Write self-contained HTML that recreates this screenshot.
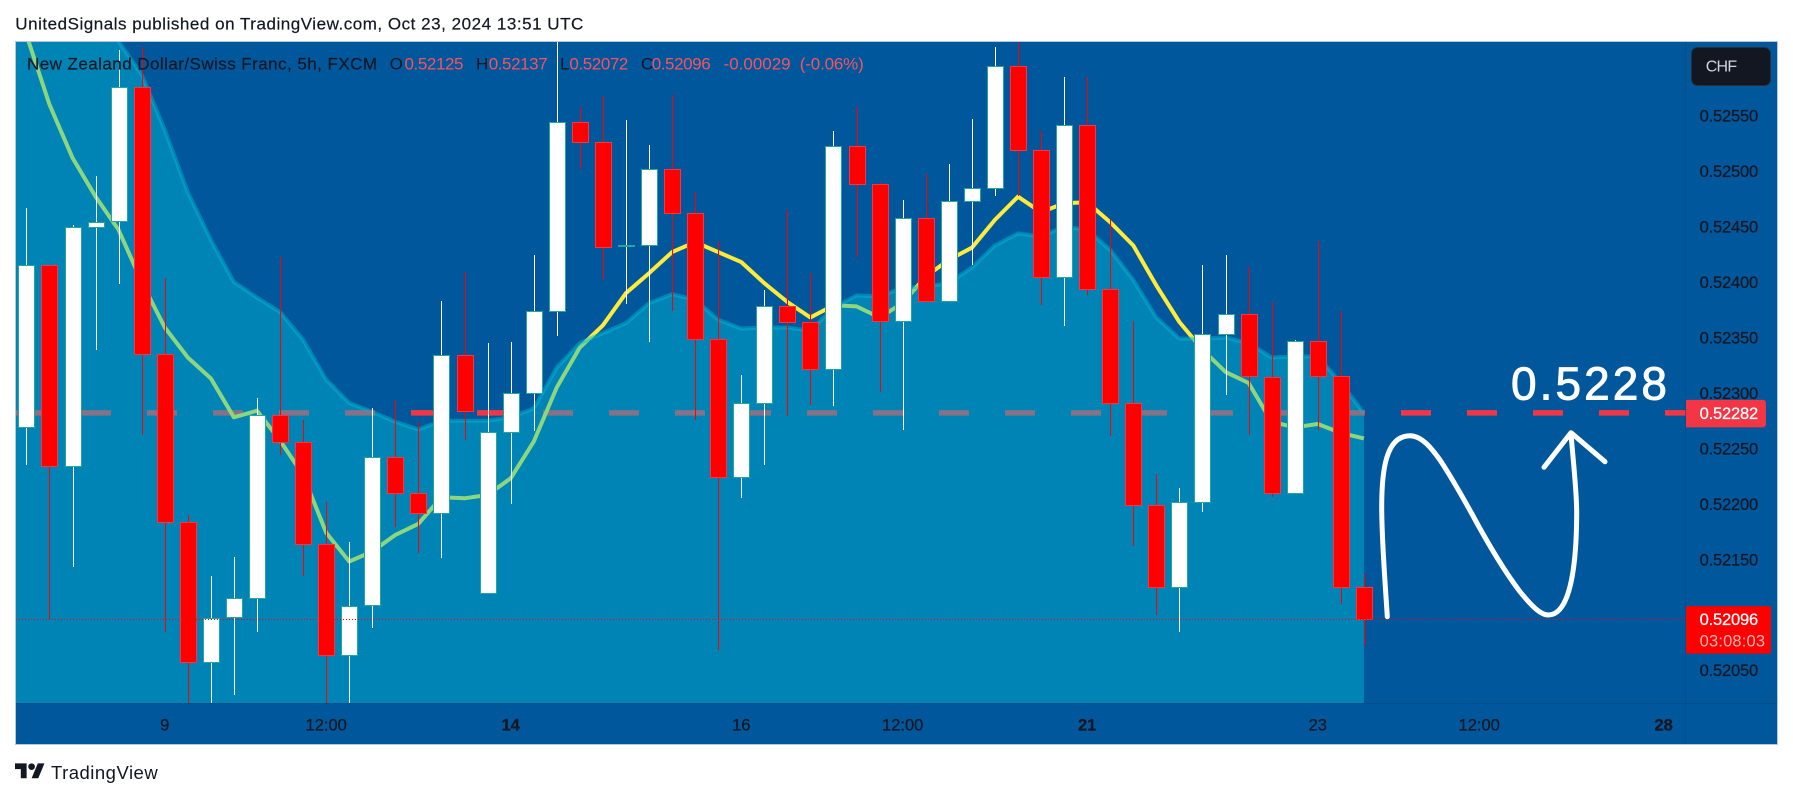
<!DOCTYPE html>
<html lang="en">
<head>
<meta charset="utf-8">
<title>NZD/CHF 5h chart</title>
<style>
  html, body { margin: 0; padding: 0; background: #ffffff; }
  body { width: 1793px; height: 798px; overflow: hidden; }
  svg { display: block; }
  text { font-family: "Liberation Sans", sans-serif; }
</style>
</head>
<body>
<svg id="chart" xmlns="http://www.w3.org/2000/svg" width="1793" height="798" viewBox="0 0 1793 798">
  <defs>
    <clipPath id="plot-clip"><rect x="16" y="42" width="1669.5" height="661"></rect></clipPath>
  </defs>
  <rect x="0" y="0" width="1793" height="798" fill="#ffffff"></rect>
  <text x="15.3" y="29.5" font-size="17" fill="#131722" stroke="#131722" stroke-width="0.2" textLength="568" lengthAdjust="spacing">UnitedSignals published on TradingView.com, Oct 23, 2024 13:51 UTC</text>
  <rect x="15.5" y="41.5" width="1762" height="703" fill="#01579b" stroke="#b7c6dc" stroke-width="1"></rect>

  <g id="plot-layer" clip-path="url(#plot-clip)">
    <g id="hline-layer"></g>
    <g id="sma-layer"></g>
    <g id="area-layer"></g>
    <g id="candle-layer"></g>
    <g id="last-layer"></g>
  </g>

  <line x1="16" y1="703.5" x2="1777" y2="703.5" stroke="#131722" stroke-opacity="0.12"></line>
  <line x1="1685.5" y1="42" x2="1685.5" y2="744" stroke="#131722" stroke-opacity="0.12"></line>

  <g id="price-axis"></g>
  <g id="time-axis"></g>

  <g font-size="17">
    <text x="27" y="69.5" fill="#131722" stroke="#131722" stroke-width="0.2" textLength="350" lengthAdjust="spacing">New Zealand Dollar/Swiss Franc, 5h, FXCM</text>
    <text x="389.6" y="69.5" fill="#131722">O</text>
    <text x="404.5" y="69.5" fill="#f7525f" textLength="59" lengthAdjust="spacing">0.52125</text>
    <text x="476" y="69.5" fill="#131722">H</text>
    <text x="488.7" y="69.5" fill="#f7525f" textLength="59" lengthAdjust="spacing">0.52137</text>
    <text x="560" y="69.5" fill="#131722">L</text>
    <text x="569.4" y="69.5" fill="#f7525f" textLength="59" lengthAdjust="spacing">0.52072</text>
    <text x="641" y="69.5" fill="#131722">C</text>
    <text x="651.7" y="69.5" fill="#f7525f" textLength="59" lengthAdjust="spacing">0.52096</text>
    <text x="723.6" y="69.5" fill="#f7525f" textLength="67" lengthAdjust="spacing">-0.00029</text>
    <text x="799.8" y="69.5" fill="#f7525f" textLength="64" lengthAdjust="spacing">(-0.06%)</text>
  </g>

  <g>
    <rect x="1691.5" y="47.5" width="79" height="38" rx="6" fill="#131722" stroke="#2a2e39"></rect>
    <text x="1705.7" y="71.5" font-size="16" fill="#d1d4dc" textLength="31.5" lengthAdjust="spacing">CHF</text>
  </g>

  <g>
    <text x="1511" y="399.5" font-size="46" fill="#ffffff" stroke="#ffffff" stroke-width="0.9" textLength="156" lengthAdjust="spacing">0.5228</text>
    <path d="M1387.3 616.7 C1385 580 1381.7 540 1381.7 506.7 C1381.7 470 1386 435.7 1410 435.7 C1422 435.7 1432 449 1440 460 C1452 478 1462 496 1472 514 C1486 540 1502 568 1520 591.7 C1530 604 1540 615 1548.3 615 C1568 615 1576.5 575 1576.7 513.3 C1576.7 490 1573 460 1571 433.3" fill="none" stroke="#ffffff" stroke-width="5" stroke-linecap="round" stroke-linejoin="round"></path>
    <path d="M1544 467.3 L1571 432.7 L1605 461.7" fill="none" stroke="#ffffff" stroke-width="5" stroke-linecap="round" stroke-linejoin="round"></path>
  </g>

  <g>
    <path transform="translate(15 760) scale(0.83)" fill="#131722" d="M14 22H7V11H0V4h14v18zM28 22h-8l7.5-18h8L28 22z"></path>
    <circle transform="translate(15 760) scale(0.83)" cx="20" cy="8" r="4" fill="#131722"></circle>
    <text x="51" y="779" font-size="18.5" fill="#131722" textLength="106.7" lengthAdjust="spacing">TradingView</text>
  </g>
</svg>

<script>
const opens = [0.52269,0.52415,0.52234,0.52450,0.52455,0.52576,0.52335,0.52184,0.52057,0.52098,
0.52115,0.52280,0.52256,0.52164,0.52064,0.52109,0.52242,0.52210,0.52192,0.52334,
0.52120,0.52265,0.52300,0.52374,0.52544,0.52526,0.52433,0.52433,0.52502,0.52462,
0.52349,0.52224,0.52291,0.52378,0.52364,0.52322,0.52523,0.52488,0.52365,0.52458,
0.52383,0.52473,0.52485,0.52595,0.52519,0.52405,0.52542,0.52394,0.52291,0.52199,
0.52125,0.52202,0.52353,0.52371,0.52314,0.52210,0.52347,0.52315,0.52125];
const highs = [0.52467,0.52415,0.52451,0.52496,0.52609,0.52612,0.52404,0.52190,0.52135,0.52152,
0.52295,0.52423,0.52276,0.52202,0.52166,0.52286,0.52294,0.52274,0.52383,0.52409,
0.52345,0.52346,0.52424,0.52625,0.52558,0.52568,0.52546,0.52524,0.52569,0.52481,
0.52437,0.52316,0.52393,0.52465,0.52408,0.52536,0.52558,0.52490,0.52474,0.52497,
0.52506,0.52547,0.52612,0.52625,0.52536,0.52585,0.52585,0.52457,0.52365,0.52227,
0.52214,0.52415,0.52424,0.52414,0.52382,0.52348,0.52437,0.52374,0.52137];
const lows = [0.52235,0.52096,0.52143,0.52339,0.52398,0.52262,0.52084,0.52010,0.52010,0.52028,
0.52084,0.52244,0.52135,0.52010,0.52010,0.52088,0.52179,0.52156,0.52151,0.52258,
0.52120,0.52200,0.52266,0.52351,0.52502,0.52402,0.52380,0.52346,0.52374,0.52276,
0.52068,0.52205,0.52235,0.52279,0.52289,0.52288,0.52423,0.52301,0.52267,0.52383,
0.52383,0.52415,0.52478,0.52478,0.52379,0.52360,0.52388,0.52261,0.52162,0.52100,
0.52084,0.52193,0.52298,0.52262,0.52206,0.52210,0.52267,0.52110,0.52072];
const closes = [0.52415,0.52234,0.52450,0.52454,0.52576,0.52335,0.52184,0.52057,0.52097,0.52115,
0.52280,0.52256,0.52164,0.52064,0.52108,0.52242,0.52210,0.52192,0.52334,0.52284,
0.52265,0.52300,0.52374,0.52544,0.52526,0.52432,0.52433,0.52502,0.52462,0.52349,
0.52224,0.52291,0.52378,0.52364,0.52322,0.52523,0.52488,0.52365,0.52458,0.52383,
0.52473,0.52485,0.52595,0.52519,0.52405,0.52542,0.52394,0.52291,0.52199,0.52125,
0.52202,0.52353,0.52371,0.52315,0.52210,0.52347,0.52315,0.52125,0.52096];
const smaValues = [0.52623,0.52560,0.52512,0.52477,0.52447,0.52400,0.52359,0.52332,0.52313,0.52278,
0.52284,0.52257,0.52226,0.52174,0.52148,0.52157,0.52172,0.52182,0.52206,0.52205,
0.52208,0.52223,0.52256,0.52305,0.52341,0.52361,0.52390,0.52408,0.52427,0.52436,
0.52427,0.52418,0.52399,0.52382,0.52368,0.52379,0.52378,0.52368,0.52381,0.52405,
0.52420,0.52431,0.52456,0.52477,0.52463,0.52471,0.52472,0.52454,0.52433,0.52397,
0.52364,0.52339,0.52319,0.52309,0.52274,0.52269,0.52272,0.52264,0.52259];
const areaValues = [0.52826,0.52772,0.52722,0.52668,0.52617,0.52587,0.52537,0.52481,0.52438,0.52400,
0.52386,0.52373,0.52348,0.52312,0.52291,0.52283,0.52274,0.52267,0.52275,0.52275,
0.52275,0.52278,0.52286,0.52323,0.52345,0.52354,0.52363,0.52381,0.52389,0.52384,
0.52366,0.52358,0.52359,0.52359,0.52356,0.52377,0.52388,0.52387,0.52395,0.52396,
0.52399,0.52413,0.52433,0.52444,0.52441,0.52450,0.52447,0.52429,0.52402,0.52368,
0.52349,0.52349,0.52350,0.52345,0.52332,0.52333,0.52333,0.52309,0.52282];
const priceTicks = [0.52550,0.52500,0.52450,0.52400,0.52350,0.52300,0.52250,0.52200,0.52150,0.52050];
const timeTickBars = [6,13,21,31,38,46,56,63,71];
const timeTickLabels = ['9','12:00','14','16','12:00','21','23','12:00','28'];
const majorTimeLabels = ['14','21','28'];
const targetPrice = 0.52282;
const lastPrice = 0.52096;
const countdown = '03:08:03';

const SVGNS = 'http://www.w3.org/2000/svg';
function xAt(i) { return 26.4 + i * 23.06; }
function yAt(p) { return 115.7 + (0.5255 - p) * 110900; }
function mk(tag, attrs, parent) {
  const el = document.createElementNS(SVGNS, tag);
  for (const k in attrs) el.setAttribute(k, attrs[k]);
  parent.appendChild(el);
  return el;
}
function linePath(values) {
  return values.map((v, i) => (i ? 'L' : 'M') + xAt(i).toFixed(1) + ' ' + yAt(v).toFixed(1)).join(' ');
}

/* target level */
const hline = mk('line', {x1: 15, x2: 1686, y1: yAt(targetPrice), y2: yAt(targetPrice), stroke: '#f23645', 'stroke-width': 5.5, 'stroke-dasharray': '30 36'}, document.getElementById('hline-layer'));



/* moving average (sits beneath the translucent area) */
const sma = mk('path', {d: linePath(smaValues), fill: 'none', stroke: '#ffeb3b', 'stroke-width': 4, 'stroke-linejoin': 'round'}, document.getElementById('sma-layer'));



/* area indicator */
const areaLayer = document.getElementById('area-layer');
const lastIdx = areaValues.length - 1;
const areaD = linePath(areaValues) + ' L' + xAt(lastIdx).toFixed(1) + ' 703 L15 703 L15 ' + yAt(areaValues[0]).toFixed(1) + ' Z';
const areaFill = mk('path', {d: areaD, fill: '#00bcd4', 'fill-opacity': 0.45}, areaLayer);


const areaLine = mk('path', {d: linePath(areaValues), fill: 'none', stroke: '#00bcd4', 'stroke-opacity': 0.45, 'stroke-width': 4, 'stroke-linejoin': 'round'}, areaLayer);



/* candles */
const candleLayer = document.getElementById('candle-layer');
opens.forEach(function (o, i) {
  const c = closes[i];
  const up = c >= o;
  const cx = Math.round(xAt(i));
  const g = mk('g', {}, candleLayer);
  
  
  const wick = mk('rect', {
    x: cx,
    y: Math.round(yAt(highs[i])),
    width: 1,
    height: Math.max(1, Math.round(yAt(lows[i])) - Math.round(yAt(highs[i]))),
    fill: up ? '#ffffff' : '#ff0000'
  }, g);
  
  
  const top = Math.round(yAt(Math.max(o, c)));
  const bottom = Math.round(yAt(Math.min(o, c)));
  const body = mk('rect', {
    x: cx - 7.5,
    y: top + 0.5,
    width: 16,
    height: Math.max(1, bottom - top),
    fill: up ? '#ffffff' : '#ff0000',
    stroke: up ? '#26a69a' : '#f23645',
    'stroke-width': 1
  }, g);
  
  
});

/* last price dotted line */
const lastLine = mk('line', {x1: 16, x2: 1685, y1: Math.round(yAt(lastPrice)) + 0.5, y2: Math.round(yAt(lastPrice)) + 0.5, stroke: '#ff0000', 'stroke-width': 1, 'stroke-dasharray': '1 2'}, document.getElementById('last-layer'));



/* price axis */
const priceAxis = document.getElementById('price-axis');
priceTicks.forEach(function (p) {
  const t = mk('text', {x: 1699.6, y: yAt(p) + 6, 'font-size': 16.5, fill: '#131722', stroke: '#131722', 'stroke-width': 0.25, textLength: 58.6, lengthAdjust: 'spacing'}, priceAxis);
  
  
  t.textContent = p.toFixed(5);
});

const targetTagY = yAt(targetPrice);
const targetTag = mk('path', {d: 'M1686 ' + (targetTagY - 13) + ' H1763 a3 3 0 0 1 3 3 V' + (targetTagY + 11.5) + ' a3 3 0 0 1 -3 3 H1686 Z', fill: '#f23645'}, priceAxis);


const targetText = mk('text', {x: 1699.6, y: targetTagY + 6, 'font-size': 16.5, fill: '#ffffff', stroke: '#ffffff', 'stroke-width': 0.25, textLength: 58.6, lengthAdjust: 'spacing'}, priceAxis);


targetText.textContent = targetPrice.toFixed(5);

const lastTagY = yAt(lastPrice);
const lastTag = mk('rect', {x: 1686, y: lastTagY - 13, width: 85, height: 47.5, rx: 2, fill: '#ff0000'}, priceAxis);


const lastText = mk('text', {x: 1699.6, y: lastTagY + 6, 'font-size': 16.5, fill: '#ffffff', stroke: '#ffffff', 'stroke-width': 0.25, textLength: 58.6, lengthAdjust: 'spacing'}, priceAxis);


lastText.textContent = lastPrice.toFixed(5);
const countText = mk('text', {x: 1699.6, y: lastTagY + 27.5, 'font-size': 16.5, fill: '#ffffff', 'fill-opacity': 0.7, textLength: 65.5, lengthAdjust: 'spacing'}, priceAxis);


countText.textContent = countdown;

/* time axis */
const timeAxis = document.getElementById('time-axis');
timeTickLabels.forEach(function (label, i) {
  const t = mk('text', {x: xAt(timeTickBars[i]), y: 730.5, 'font-size': 16.5, 'text-anchor': 'middle', fill: '#131722', stroke: '#131722', 'stroke-width': 0.25, 'font-weight': majorTimeLabels.includes(label) ? 'bold' : 'normal'}, timeAxis);
  
  
  t.textContent = label;
});
</script>
</body>
</html>
